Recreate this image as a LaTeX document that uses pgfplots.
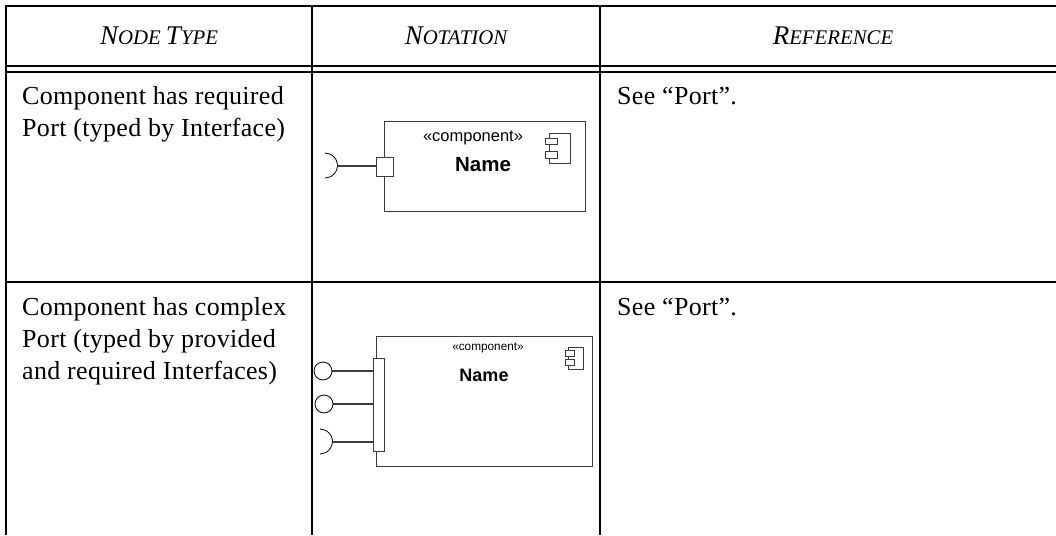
\documentclass[border=0pt]{standalone}
\usepackage{pgfplots}
\pgfplotsset{compat=1.18}
\usepackage{fontspec}
\setmainfont{Liberation Serif}
\newfontfamily\hv{Liberation Sans}
\newfontfamily\body[LetterSpace=1.2]{Liberation Serif}
\definecolor{gl}{RGB}{60,60,60}
\tikzset{
  tl/.style={black, line width=1.7pt, mark=none},
  dl/.style={gl, line width=0.9pt, mark=none},
  cl/.style={gl, line width=1.2pt, mark=none},
  al/.style={black, line width=0.8pt, mark=none, smooth},
  hd/.style={anchor=base, font=\itshape},
  bt/.style={anchor=base west, inner sep=0pt, font=\body\fontsize{26}{26}\selectfont},
}
\newcommand{\Lg}{\fontsize{27}{27}\selectfont}
\newcommand{\Sm}{\fontsize{20.8}{21}\selectfont}
\begin{document}
\begin{tikzpicture}[x=1pt,y=1pt]
\useasboundingbox (0,0) rectangle (1056,535);
\begin{axis}[
  scale only axis, width=1056pt, height=535pt,
  xmin=0, xmax=1056, ymin=0, ymax=535, y dir=reverse,
  hide axis, clip=true,
]
% table frame
\addplot[tl] coordinates {(5,6) (1056,6)};
\addplot[tl] coordinates {(5,66) (1056,66)};
\addplot[tl] coordinates {(5,72) (1056,72)};
\addplot[tl] coordinates {(5,282) (1056,282)};
\addplot[tl] coordinates {(6,6) (6,535)};
\addplot[tl] coordinates {(312,6) (312,535)};
\addplot[tl] coordinates {(600,6) (600,535)};
% upper component
\addplot[dl] coordinates {(384,157) (384,121) (585,121) (585,211) (384,211) (384,176)};
\addplot[cl] coordinates {(337.5,166) (376,166)};
\addplot[dl] coordinates {(376,157) (393,157) (393,176) (376,176) (376,157)};
\addplot[al] coordinates {(325,153) (331.25,154.7) (335.8,159.25) (337.5,165.5) (335.8,171.75) (331.25,176.3) (325,178)};
\addplot[dl] coordinates {(549,138) (549,133) (570,133) (570,163) (549,163) (549,158)};
\addplot[dl] coordinates {(549,144) (549,151)};
\addplot[dl] coordinates {(545,138) (557,138) (557,144) (545,144) (545,138)};
\addplot[dl] coordinates {(545,151) (557,151) (557,158) (545,158) (545,151)};
% lower component
\addplot[dl] coordinates {(376,358) (376,336) (592,336) (592,466) (376,466) (376,451)};
\addplot[dl] coordinates {(373,358) (384,358) (384,451) (373,451) (373,358)};
\addplot[cl] coordinates {(332,371) (373,371)};
\addplot[cl] coordinates {(333,404) (373,404)};
\addplot[cl] coordinates {(332.5,442) (373,442)};
\addplot[black, line width=0.8pt, only marks, mark=o, mark size=9pt] coordinates {(323,371) (324,404)};
\addplot[al] coordinates {(320,429) (326.25,430.7) (330.8,435.25) (332.5,441.5) (330.8,447.75) (326.25,452.3) (320,454)};
\addplot[dl] coordinates {(568,350) (568,347) (583,347) (583,369) (568,369) (568,365)};
\addplot[dl] coordinates {(568,356) (568,359)};
\addplot[dl] coordinates {(565,350) (574,350) (574,356) (565,356) (565,350)};
\addplot[dl] coordinates {(565,359) (574,359) (574,365) (565,365) (565,359)};
% headers
\node[hd] at (axis cs:159,45) {\Lg N\Sm ODE \Lg T\Sm YPE};
\node[hd] at (axis cs:456,45) {\Lg N\Sm OTATION};
\node[hd] at (axis cs:833,45) {\Lg R\Sm EFERENCE};
% body
\node[bt] at (axis cs:22,104) {Component has required};
\node[bt] at (axis cs:22,136) {Port (typed by Interface)};
\node[bt] at (axis cs:22,315) {Component has complex};
\node[bt] at (axis cs:22,347) {Port (typed by provided};
\node[bt] at (axis cs:22,379) {and required Interfaces)};
\node[bt] at (axis cs:617,104) {See “Port”.};
\node[bt] at (axis cs:617,315) {See “Port”.};
% diagram text
\node[font=\hv\fontsize{16.5}{16}\selectfont] at (axis cs:473,138) {«component»};
\node[font=\hv\bfseries\fontsize{20.5}{20}\selectfont] at (axis cs:483,165) {Name};
\node[font=\hv\fontsize{11.8}{12}\selectfont] at (axis cs:488,348) {«component»};
\node[font=\hv\bfseries\fontsize{18}{18}\selectfont] at (axis cs:484,375) {Name};
\end{axis}
\end{tikzpicture}
\end{document}
